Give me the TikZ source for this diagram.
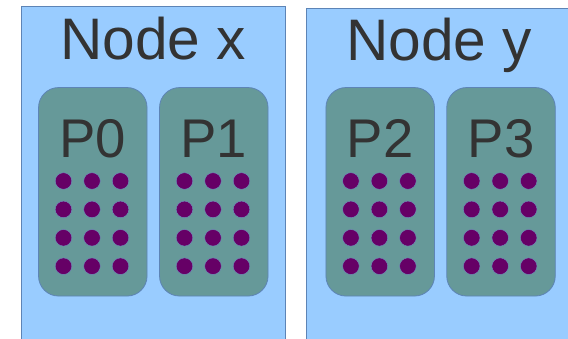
\documentclass[tikz,border=0pt]{standalone}
\usepackage{fontspec}
\setmainfont{Liberation Sans}
\usetikzlibrary{positioning}
\definecolor{nodeblue}{HTML}{99CCFF}
\definecolor{edgeblue}{HTML}{3465A4}
\definecolor{procteal}{HTML}{669999}
\definecolor{corepurple}{HTML}{660066}
\definecolor{textgray}{HTML}{333333}

\begin{document}
\begin{tikzpicture}[x=1pt, y=-1pt,
    machine/.style={draw=edgeblue!80, fill=nodeblue, line width=0.8pt, anchor=north west, inner sep=0pt, minimum height=360pt},
    proc/.style={draw=edgeblue!80, fill=procteal, line width=0.8pt, rounded corners=20pt, minimum width=108.5pt, minimum height=208.5pt, inner sep=0pt},
    title/.style={text=textgray, anchor=base, inner sep=0pt, font=\fontsize{58.6}{60}\selectfont},
    plabel/.style={text=textgray, anchor=base, inner sep=0pt, font=\fontsize{54.5}{56}\selectfont},
    core/.style={fill=corepurple, draw=edgeblue!70, line width=0.4pt}]
    \def\s{28.5}
    \useasboundingbox (0,0) rectangle (568,339);
    \clip (0,0) rectangle (568,339);
    % Compute nodes
    \node[machine, minimum width=264.5pt] (nodex) at (20.5,6.5) {};
    \node[machine, minimum width=290pt] (nodey) at (305.5,8) {};
    \node[title] (nodextitle) at (153,60) {Node x};
    \node[title] (nodeytitle) at (439,61) {Node y};
    % Processors
    \foreach \n/\cx in {0/92.8, 1/213.8, 2/380.2, 3/501} {
        \node[proc] (p\n) at (\cx,191.8) {};
        \node[plabel] (p\n title) at (\cx,157.3) {P\n};
        % Cores
        \foreach \i in {-1,0,1} { \foreach \j in {0,1,2,3} {
            \filldraw[core] (\cx+\i*\s-0.8, 181+\j*28.4) circle (8.3);
        }}
    }
\end{tikzpicture}
\end{document}
